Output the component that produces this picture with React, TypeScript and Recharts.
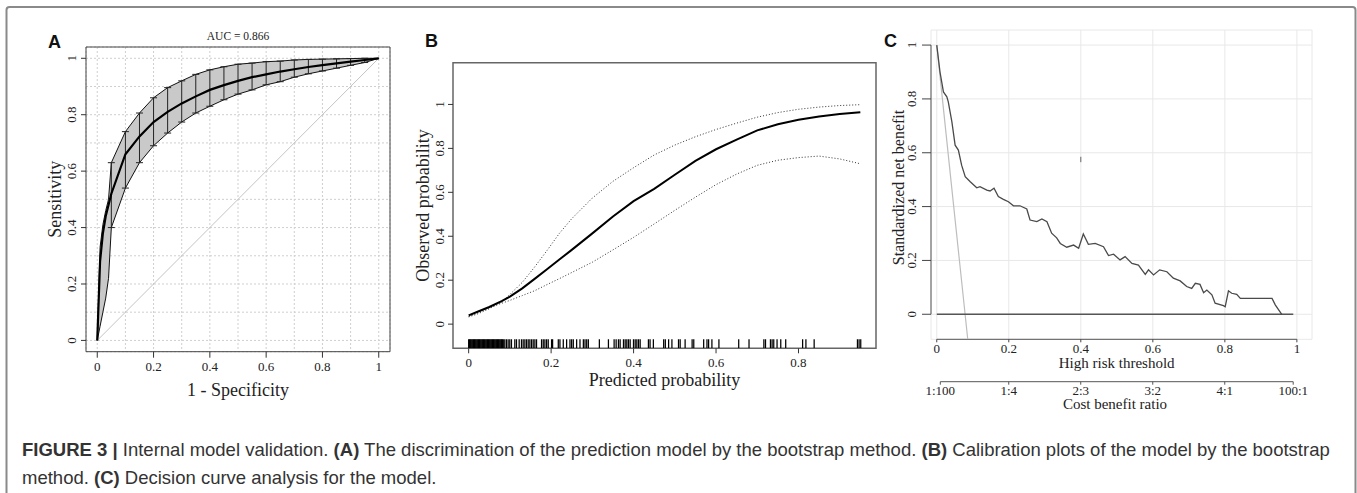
import React from "react";
import {
  ComposedChart,
  Line,
  Area,
  Scatter,
  ErrorBar,
  XAxis,
  YAxis,
  CartesianGrid,
  ReferenceLine,
  ReferenceArea,
} from "recharts";

const SERIF = "'Liberation Serif', 'Times New Roman', serif";
const SANS = "'Liberation Sans', Arial, sans-serif";

// ---- panel A: bootstrap ROC ----
const rocFpr = [0, 0.01, 0.02, 0.03, 0.04, 0.05, 0.1, 0.15, 0.2, 0.25, 0.3, 0.35, 0.4, 0.45, 0.5, 0.55, 0.6, 0.65, 0.7, 0.75, 0.8, 0.85, 0.9, 0.95, 1];
const rocMean = [0, 0.28, 0.38, 0.44, 0.48, 0.52, 0.66, 0.723, 0.774, 0.81, 0.84, 0.865, 0.888, 0.905, 0.92, 0.933, 0.943, 0.953, 0.961, 0.969, 0.976, 0.982, 0.988, 0.994, 1];
const rocLow = [0, 0.05, 0.1, 0.15, 0.22, 0.4, 0.54, 0.63, 0.69, 0.735, 0.774, 0.806, 0.83, 0.853, 0.873, 0.888, 0.906, 0.917, 0.933, 0.945, 0.955, 0.965, 0.975, 0.985, 1];
const rocHigh = [0, 0.33, 0.41, 0.46, 0.5, 0.63, 0.74, 0.806, 0.86, 0.896, 0.92, 0.943, 0.959, 0.97, 0.979, 0.983, 0.988, 0.99, 0.994, 0.996, 0.997, 0.998, 0.999, 1, 1];
const rocBarFpr = [0.05, 0.1, 0.15, 0.2, 0.25, 0.3, 0.35, 0.4, 0.45, 0.5, 0.55, 0.6, 0.65, 0.7, 0.75, 0.8, 0.85, 0.9, 0.95];
const rocTicks = [0, 0.2, 0.4, 0.6, 0.8, 1];
const rocGrid = [0, 0.1, 0.2, 0.3, 0.4, 0.5, 0.6, 0.7, 0.8, 0.9, 1];
const aucText = "AUC = 0.866";

// ---- panel B: calibration ----
const calX = [0, 0.02, 0.05, 0.08, 0.1, 0.13, 0.16, 0.19, 0.22, 0.25, 0.3, 0.35, 0.4, 0.45, 0.5, 0.55, 0.6, 0.65, 0.7, 0.75, 0.8, 0.85, 0.9, 0.95];
const calMain = [0.04, 0.055, 0.078, 0.105, 0.125, 0.163, 0.206, 0.25, 0.294, 0.338, 0.413, 0.49, 0.56, 0.616, 0.68, 0.743, 0.796, 0.84, 0.882, 0.91, 0.93, 0.945, 0.956, 0.965];
const calUpper = [0.033, 0.045, 0.07, 0.1, 0.135, 0.19, 0.26, 0.335, 0.413, 0.48, 0.574, 0.65, 0.712, 0.77, 0.815, 0.853, 0.886, 0.915, 0.942, 0.963, 0.978, 0.988, 0.995, 0.999];
const calLower = [0.035, 0.05, 0.075, 0.095, 0.108, 0.13, 0.152, 0.18, 0.207, 0.235, 0.282, 0.338, 0.395, 0.456, 0.518, 0.578, 0.635, 0.683, 0.723, 0.746, 0.758, 0.765, 0.752, 0.73];
const rugX = [
  0.0, 0.002, 0.004, 0.006, 0.008, 0.01, 0.012, 0.014, 0.016, 0.018, 0.02, 0.022, 0.024, 0.026, 0.028, 0.03,
  0.032, 0.034, 0.036, 0.038, 0.04, 0.042, 0.044, 0.046, 0.048, 0.05, 0.052, 0.054, 0.056, 0.058, 0.06, 0.062,
  0.064, 0.066, 0.068, 0.07, 0.072, 0.074, 0.076, 0.078, 0.08, 0.082, 0.084,
  0.0876, 0.0916, 0.0957, 0.0997, 0.1038, 0.1119, 0.116, 0.1225, 0.1281, 0.1322, 0.1363, 0.1403, 0.1444, 0.1484,
  0.1525, 0.1565, 0.1606, 0.1646, 0.1768, 0.1809, 0.1849, 0.189, 0.193, 0.2011, 0.2036, 0.2174, 0.2214, 0.2295,
  0.2376, 0.2457, 0.2498, 0.2538, 0.2619, 0.27, 0.2782, 0.2822, 0.2863, 0.2903, 0.317, 0.339, 0.3528, 0.3577,
  0.3633, 0.3674, 0.3755, 0.3796, 0.3836, 0.3876, 0.3917, 0.3998, 0.4039, 0.4079, 0.412, 0.416, 0.436, 0.44,
  0.448, 0.473, 0.477, 0.485, 0.493, 0.509, 0.513, 0.525, 0.542, 0.546, 0.57, 0.578, 0.582, 0.59, 0.607, 0.655,
  0.68, 0.716, 0.72, 0.732, 0.736, 0.74, 0.748, 0.757, 0.769, 0.81, 0.818, 0.838, 0.943, 0.947, 0.951,
];
const calTicksX = [0, 0.2, 0.4, 0.6, 0.8];
const calTicksY = [0, 0.2, 0.4, 0.6, 0.8, 1];

// ---- panel C: decision curve ----
const dcaT = [0, 0.009, 0.0185, 0.028, 0.032, 0.042, 0.051, 0.06, 0.069, 0.079, 0.093, 0.111, 0.12, 0.139, 0.148, 0.159, 0.171, 0.185, 0.199, 0.213, 0.231, 0.25, 0.259, 0.278, 0.292, 0.306, 0.319, 0.333, 0.343, 0.361, 0.38, 0.394, 0.407, 0.421, 0.44, 0.463, 0.477, 0.491, 0.509, 0.523, 0.542, 0.56, 0.579, 0.588, 0.602, 0.619, 0.639, 0.657, 0.676, 0.694, 0.708, 0.718, 0.731, 0.741, 0.75, 0.764, 0.773, 0.796, 0.801, 0.81, 0.819, 0.833, 0.843, 0.931, 0.94, 0.958];
const dcaModel = [1, 0.9, 0.826, 0.808, 0.789, 0.715, 0.628, 0.61, 0.554, 0.511, 0.492, 0.47, 0.474, 0.461, 0.458, 0.468, 0.437, 0.427, 0.418, 0.403, 0.403, 0.391, 0.35, 0.344, 0.354, 0.344, 0.301, 0.284, 0.263, 0.249, 0.257, 0.245, 0.298, 0.26, 0.263, 0.251, 0.218, 0.223, 0.202, 0.214, 0.189, 0.183, 0.148, 0.165, 0.146, 0.165, 0.158, 0.134, 0.124, 0.103, 0.096, 0.115, 0.111, 0.08, 0.09, 0.072, 0.041, 0.032, 0.028, 0.087, 0.078, 0.074, 0.059, 0.059, 0.035, 0];
const allT = [0, 0.04, 0.0787, 0.086];
const allV = [1, 0.49, 0, -0.093];
const noneT = [0, 0.99];
const noneV = [0, 0];
const dcaTicks = [0, 0.2, 0.4, 0.6, 0.8, 1];
const costTicks = [0.0099, 0.2, 0.4, 0.6, 0.8, 0.9901];
const costLabels = ["1:100", "1:4", "2:3", "3:2", "4:1", "100:1"];

const fmt = (v: number) => String(Math.round(v * 100) / 100);

const rocRows = rocFpr.map((x, i) => ({ x, mean: rocMean[i], low: rocLow[i], high: rocHigh[i], band: [rocLow[i], rocHigh[i]] }));
const rocBars = rocBarFpr.map((x) => {
  const i = rocFpr.indexOf(x);
  return { x, mean: rocMean[i], err: [rocMean[i] - rocLow[i], rocHigh[i] - rocMean[i]] };
});
const diagRows = [{ x: 0, v: 0 }, { x: 1, v: 1 }];
const calRows = calX.map((x, i) => ({ x, main: calMain[i], upper: calUpper[i], lower: calLower[i] }));
const calYMin = -0.11;
const rugRows = rugX.map((x) => ({ x, y: calYMin }));
const dcaRows = dcaT.map((x, i) => ({ x, v: dcaModel[i] }));
const allRows = allT.map((x, i) => ({ x, v: allV[i] }));
const noneRows = noneT.map((x, i) => ({ x, v: noneV[i] }));
const costRows = costTicks.map((x) => ({ x, v: 0 }));

const tickFont = { fontSize: 13, fontFamily: SERIF, fill: "#222" };

const RotTick = (props: any) => {
  const { x, y, payload } = props;
  return (
    <text x={x} y={y} transform={`rotate(-90 ${x} ${y})`} textAnchor="middle" fontSize={13} fontFamily={SERIF} fill="#222">
      {fmt(payload.value)}
    </text>
  );
};

const NoDot = () => <g />;
const RugMark = (props: any) => (
  <line x1={props.cx} x2={props.cx} y1={props.cy} y2={props.cy - 9} stroke="#000" strokeWidth={1.25} />
);

function RocPanel() {
  return (
    <div style={{ position: "absolute", left: 0, top: 0 }}>
      <ComposedChart width={410} height={410} margin={{ top: 47, right: 20, bottom: 8.3, left: 46 }}>
        {/* hidden helper axes that carry the 0.1 grid */}
        <XAxis xAxisId="g" dataKey="x" type="number" hide domain={[-0.04, 1.04]} allowDataOverflow ticks={rocGrid} />
        <YAxis yAxisId="g" type="number" hide domain={[-0.04, 1.04]} allowDataOverflow ticks={rocGrid} />
        <CartesianGrid xAxisId="g" yAxisId="g" stroke="#cfcfcf" strokeDasharray="2 2" />
        <XAxis dataKey="x" type="number" domain={[-0.04, 1.04]} allowDataOverflow ticks={rocTicks} tickFormatter={fmt}
          tickSize={6} tickMargin={4} axisLine={false} tickLine={{ stroke: "#333" }} tick={tickFont} height={50} />
        <YAxis type="number" domain={[-0.04, 1.04]} allowDataOverflow ticks={rocTicks} tick={(p: any) => <RotTick {...p} />}
          tickSize={5} tickMargin={5} axisLine={false} tickLine={{ stroke: "#333" }} width={40} />
        <Line data={diagRows} dataKey="v" stroke="#c4c4c4" strokeWidth={1} dot={false} isAnimationActive={false} />
        <Area data={rocRows} dataKey="band" type="linear" fill="#c9c9c9" fillOpacity={1} stroke="none" isAnimationActive={false} />
        <Line data={rocRows} dataKey="low" stroke="#111" strokeWidth={1} dot={false} isAnimationActive={false} />
        <Line data={rocRows} dataKey="high" stroke="#111" strokeWidth={1} dot={false} isAnimationActive={false} />
        <Scatter data={rocBars} dataKey="mean" shape={NoDot} isAnimationActive={false}>
          <ErrorBar dataKey="err" direction="y" width={3.5} stroke="#222" strokeWidth={1} isAnimationActive={false} />
        </Scatter>
        <Line data={rocRows} dataKey="mean" stroke="#000" strokeWidth={2.2} dot={false} isAnimationActive={false} />
        <ReferenceArea x1={-0.04} x2={1.04} y1={-0.04} y2={1.04} fill="none" fillOpacity={0} stroke="#444" strokeWidth={1} />
      </ComposedChart>
    </div>
  );
}

function CalPanel() {
  return (
    <div style={{ position: "absolute", left: 380, top: 0 }}>
      <ComposedChart width={520} height={410} margin={{ top: 62.7, right: 24, bottom: 21.7, left: 33 }}>
        <XAxis dataKey="x" type="number" domain={[-0.038, 0.988]} allowDataOverflow ticks={calTicksX} tickFormatter={fmt}
          tickSize={5} tickMargin={4} axisLine={false} tickLine={{ stroke: "#333" }} tick={tickFont} height={40} />
        <YAxis type="number" domain={[calYMin, 1.19]} allowDataOverflow ticks={calTicksY} tick={(p: any) => <RotTick {...p} />}
          tickSize={5} tickMargin={3.5} axisLine={false} tickLine={{ stroke: "#333" }} width={40} />
        <Line data={calRows} dataKey="upper" stroke="#333" strokeWidth={1} strokeDasharray="1 2" dot={false} isAnimationActive={false} />
        <Line data={calRows} dataKey="lower" stroke="#333" strokeWidth={1} strokeDasharray="1 2" dot={false} isAnimationActive={false} />
        <Line data={calRows} dataKey="main" stroke="#000" strokeWidth={2} dot={false} isAnimationActive={false} />
        <Scatter data={rugRows} dataKey="y" shape={RugMark} isAnimationActive={false} />
        <ReferenceArea x1={-0.038} x2={0.988} y1={calYMin} y2={1.19} fill="none" fillOpacity={0} stroke="#666" strokeWidth={1.5} />
      </ComposedChart>
    </div>
  );
}

function DcaPanel() {
  const xMin = -0.016;
  const yMin = -0.093;
  return (
    <div style={{ position: "absolute", left: 860, top: 0 }}>
      <ComposedChart width={497} height={400} margin={{ top: 30, right: 45, bottom: 20.7, left: 31 }}>
        <CartesianGrid stroke="#e8e8e8" strokeWidth={1} />
        <XAxis dataKey="x" type="number" domain={[xMin, 1.042]} allowDataOverflow ticks={dcaTicks} tickFormatter={fmt}
          tickSize={3} tickMargin={1} axisLine={false} tickLine={{ stroke: "#444" }} tick={tickFont} height={40} />
        <YAxis type="number" domain={[yMin, 1.056]} allowDataOverflow ticks={dcaTicks} tick={(p: any) => <RotTick {...p} />}
          tickSize={9} tickMargin={6} axisLine={false} tickLine={{ stroke: "#444" }} width={40} />
        <ReferenceLine segment={[{ x: xMin, y: 0 }, { x: xMin, y: 1 }]} stroke="#555" strokeWidth={1} />
        <ReferenceLine segment={[{ x: 0, y: yMin }, { x: 1, y: yMin }]} stroke="#555" strokeWidth={1} />
        <ReferenceLine segment={[{ x: 0.4, y: 0.565 }, { x: 0.4, y: 0.585 }]} stroke="#666" strokeWidth={1} />
        <Line data={allRows} dataKey="v" stroke="#bdbdbd" strokeWidth={1.2} dot={false} isAnimationActive={false} />
        <Line data={noneRows} dataKey="v" stroke="#555" strokeWidth={1.3} dot={false} isAnimationActive={false} />
        <Line data={dcaRows} dataKey="v" stroke="#4a4a4a" strokeWidth={1.3} dot={false} isAnimationActive={false} />
      </ComposedChart>
    </div>
  );
}

function CostAxis() {
  return (
    <div style={{ position: "absolute", left: 900, top: 370 }}>
      <ComposedChart width={440} height={40} margin={{ top: 5, right: 46.8, bottom: 8.3, left: 40.3 }}>
        <XAxis dataKey="x" type="number" domain={[0.0099, 0.9901]} allowDataOverflow ticks={costTicks}
          tickFormatter={(v: number) => costLabels[costTicks.indexOf(v)] ?? ""}
          tickSize={3} tickMargin={1} axisLine={{ stroke: "#555" }} tickLine={{ stroke: "#555" }} tick={tickFont} height={20} />
        <YAxis hide type="number" domain={[0, 1]} />
        <Line data={costRows} dataKey="v" stroke="none" dot={false} isAnimationActive={false} />
      </ComposedChart>
    </div>
  );
}

function Labels() {
  const t = { fontFamily: SERIF, fill: "#222" };
  return (
    <svg width={1357} height={493} style={{ position: "absolute", left: 0, top: 0, pointerEvents: "none" }}>
      <rect x={6.5} y={7} width={1349} height={500} rx={3} fill="none" stroke="#8a8a8a" strokeWidth={2} />
      <text x={48} y={48} fontFamily={SANS} fontWeight="bold" fontSize={18} fill="#111">A</text>
      <text x={425} y={47} fontFamily={SANS} fontWeight="bold" fontSize={18} fill="#111">B</text>
      <text x={884} y={47} fontFamily={SANS} fontWeight="bold" fontSize={18} fill="#111">C</text>
      <text x={238} y={39.5} textAnchor="middle" fontSize={11.5} {...t}>{aucText}</text>
      <text x={55} y={199.3} textAnchor="middle" dominantBaseline="central" transform="rotate(-90 55 199.3)" fontSize={18} {...t}>Sensitivity</text>
      <text x={238} y={390} textAnchor="middle" dominantBaseline="central" fontSize={18} {...t}>1 - Specificity</text>
      <text x={423.3} y={205.5} textAnchor="middle" dominantBaseline="central" transform="rotate(-90 423.3 205.5)" fontSize={18} {...t}>Observed probability</text>
      <text x={664.5} y={380} textAnchor="middle" dominantBaseline="central" fontSize={18} {...t}>Predicted probability</text>
      <text x={898} y={187.5} textAnchor="middle" dominantBaseline="central" transform="rotate(-90 898 187.5)" fontSize={16} {...t}>Standardized net benefit</text>
      <text x={1116.7} y={363} textAnchor="middle" dominantBaseline="central" fontSize={15} {...t}>High risk threshold</text>
      <text x={1115} y={404} textAnchor="middle" dominantBaseline="central" fontSize={15} {...t}>Cost benefit ratio</text>
      <text x={22} y={456} fontFamily={SANS} fontSize={18.5} fill="#333">
        <tspan fontWeight="bold">{"FIGURE 3 | "}</tspan>
        {"Internal model validation. "}
        <tspan fontWeight="bold">{"(A)"}</tspan>
        {" The discrimination of the prediction model by the bootstrap method. "}
        <tspan fontWeight="bold">{"(B)"}</tspan>
        {" Calibration plots of the model by the bootstrap"}
      </text>
      <text x={22} y={484} fontFamily={SANS} fontSize={18.5} fill="#333">
        {"method. "}
        <tspan fontWeight="bold">{"(C)"}</tspan>
        {" Decision curve analysis for the model."}
      </text>
    </svg>
  );
}

export default function App() {
  return (
    <div style={{ position: "absolute", left: 0, top: 0, width: 1357, height: 493, background: "#fff", overflow: "hidden" }}>
      <RocPanel />
      <CalPanel />
      <DcaPanel />
      <CostAxis />
      <Labels />
    </div>
  );
}
